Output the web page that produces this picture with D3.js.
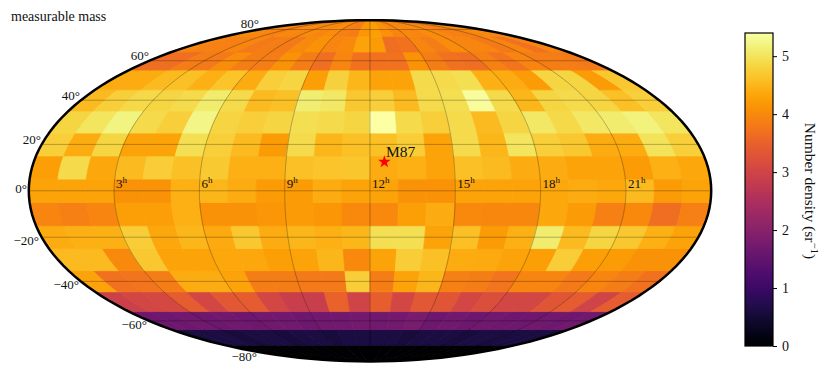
<!DOCTYPE html>
<html><head><meta charset="utf-8">
<script src="https://cdn.jsdelivr.net/npm/d3@7"></script>
<style>html,body{margin:0;padding:0;background:#fff}svg{display:block}text{font-family:"Liberation Serif",serif;fill:#111}</style>
</head><body><svg id="c" width="830" height="381"></svg>
<script>
// Latitude edges of the bands (deg), south to north; longitude bins are 1h wide (RA 0h..24h).
const latEdges = [-90,-75,-65,-55,-45,-35,-25,-15,-5,5,15,25,35,45,55,65,75,90];
const raHours = d3.range(0,25);
// Number density per RA hour, one array per band, south to north
const bandS82 = [0,0,0,0,0,0,0,0,0,0,0,0,0,0,0,0,0,0,0,0,0,0,0,0];
const bandS70 = [0.6,0.6,0.6,0.55,0.6,0.6,0.55,0.6,0.6,0.55,0.6,0.6,0.6,0.6,0.55,0.6,0.6,0.6,0.55,0.6,0.6,0.6,0.6,0.6];
const bandS60 = [1.65,1.65,1.7,1.65,1.7,1.65,1.7,1.7,1.65,1.7,1.7,1.75,1.7,1.75,1.8,1.65,1.7,1.65,1.7,1.65,1.65,1.7,1.65,1.7];
const bandS50 = [2.95,3.05,3.1,3.4,3.05,3.35,3.4,3.05,2.9,2.9,3.5,3.0,3.45,3.05,3.35,3.3,3.05,3.2,3.05,3.05,3.3,3.4,3.0,3.4];
const bandS40 = [4.3,3.7,3.75,3.85,4.4,4.4,4.3,3.85,3.85,3.8,3.8,4.75,3.85,4.3,4.5,3.9,3.85,3.75,3.95,3.95,3.8,3.95,3.85,3.7];
const bandS30 = [4.55,4.55,4.0,4.7,4.3,4.3,4.35,4.35,4.25,4.3,4.5,4.0,4.3,4.75,4.6,4.4,4.38,4.3,4.25,4.75,4.25,4.2,4.1,4.1];
const bandS20 = [4.4,4.45,4.45,4.75,4.35,4.5,4.38,4.7,4.4,4.5,4.45,4.5,4.95,4.95,4.3,4.6,4.2,4.45,5.1,4.55,4.85,4.7,4.45,4.3];
const bandS10 = [3.95,3.9,3.95,4.25,4.25,4.45,4.1,4.1,4.15,4.2,4.15,4.0,4.0,4.25,4.4,4.0,3.98,3.98,4.35,4.2,3.9,4.0,3.65,3.9];
const band00 = [4.3,4.3,4.3,4.1,4.1,4.45,4.5,4.4,4.2,4.2,4.4,4.3,4.3,4.1,4.1,4.3,4.3,4.3,4.35,4.4,4.35,4.55,4.2,4.3];
const bandN10 = [4.25,4.9,4.35,4.55,4.75,4.6,4.72,4.45,4.45,4.6,4.65,4.68,4.4,4.45,4.3,4.6,4.55,4.4,4.4,4.3,4.3,4.2,4.45,4.35];
const bandN20 = [4.78,4.4,4.85,4.3,4.3,4.95,4.78,4.55,4.2,4.9,4.5,4.6,4.6,4.75,4.3,4.9,4.5,5.0,4.78,4.7,4.4,4.4,4.98,4.78];
const bandN30 = [4.85,5.0,5.2,4.9,4.78,5.22,4.85,4.78,4.85,4.95,4.9,4.85,5.4,4.9,4.78,4.9,4.55,4.85,5.05,4.88,5.05,5.1,5.18,5.0];
const bandN40 = [4.55,4.78,4.88,4.85,4.9,5.1,4.9,4.55,4.6,5.12,5.05,4.7,4.78,4.55,4.9,4.95,5.35,4.9,4.5,4.85,4.9,4.85,4.6,4.78];
const bandN50 = [4.4,4.4,4.55,4.6,4.45,4.65,4.4,4.78,4.85,4.25,4.8,4.5,4.3,4.3,4.9,4.9,4.95,4.45,4.4,4.2,4.85,4.85,4.2,4.7];
const bandN60 = [3.65,3.65,3.85,3.8,4.05,3.85,3.85,4.1,3.85,3.65,3.95,3.7,3.7,3.7,4.1,3.85,3.7,3.65,3.9,3.75,3.95,3.85,3.85,3.8];
const bandN70 = [3.95,3.9,3.9,3.95,3.8,3.85,3.8,4.0,4.1,3.95,4.0,4.3,4.2,3.65,3.7,3.95,3.85,4.05,3.95,3.95,3.8,3.95,3.7,3.95];
const bandN82 = [4.0,4.0,3.95,3.9,4.0,3.95,4.05,3.95,4.05,3.9,3.85,4.15,4.25,4.1,3.95,4.0,3.95,4.05,4.0,3.9,3.85,3.95,4.0,3.95];
const bands = [bandS82,bandS70,bandS60,bandS50,bandS40,bandS30,bandS20,bandS10,band00,bandN10,bandN20,bandN30,bandN40,bandN50,bandN60,bandN70,bandN82];

const latTicks = [-80,-60,-40,-20,0,20,40,60,80];
const raTicks = [3,6,9,12,15,18,21];
const cbarTicks = [0,1,2,3,4,5];
const vMax = 5.4;
const title = "measurable mass";
const cbarTitle = "Number density (sr";
const source = {name:"M87", ra:187.7, dec:12.4};

function mollweideRaw(lam, phi){
  const target = Math.PI*Math.sin(phi);
  let t = phi;
  if (Math.abs(Math.abs(phi)-Math.PI/2) < 1e-9) t = phi;
  else for (let i=0;i<60;i++){
    const d = (2*t+Math.sin(2*t)-target)/(2+2*Math.cos(2*t)+1e-12);
    t -= d; if (Math.abs(d)<1e-10) break;
  }
  return [2*Math.SQRT2/Math.PI*lam*Math.cos(t), Math.SQRT2*Math.sin(t)];
}
const proj = d3.geoProjection(mollweideRaw).scale(170.6/Math.SQRT2).translate([370,190.8]).rotate([0,0]).precision(0.1);
const lonOf = h => h*15-180;
const P = (lon,lat)=>{ const r=(lon*Math.PI/180), f=(lat*Math.PI/180), p=mollweideRaw(r,f), k=proj.scale(), t=proj.translate(); return [t[0]+k*p[0], t[1]-k*p[1]]; };
const line = d3.line();
const svg = d3.select("#c");
const color = d3.scaleSequential(d3.interpolateInferno).domain([0,vMax]);

const defs = svg.append("defs");
const outline = d3.range(0,361,2).map(a=>[370+341.2*Math.cos(a*Math.PI/180),190.8+170.6*Math.sin(a*Math.PI/180)]);
defs.append("clipPath").attr("id","el").append("path").attr("d",line(outline)+"Z");

const map = svg.append("g").attr("clip-path","url(#el)");
// cells
const cells = [];
bands.forEach((vals,b)=>vals.forEach((v,i)=>cells.push({v,la0:latEdges[b],la1:latEdges[b+1],h0:raHours[i],h1:raHours[i+1]})));
function cellPath(c){
  const n=10, l0=lonOf(c.h0), l1=lonOf(c.h1), pts=[];
  for(let k=0;k<=n;k++) pts.push(P(l0,c.la0+(c.la1-c.la0)*k/n));
  for(let k=n;k>=0;k--) pts.push(P(l1,c.la0+(c.la1-c.la0)*k/n));
  return line(pts)+"Z";
}
map.selectAll("path.cell").data(cells).join("path").attr("class","cell")
  .attr("d",cellPath).attr("fill",d=>color(d.v)).attr("stroke",d=>color(d.v)).attr("stroke-width",0.8).attr("stroke-linejoin","round");
// grid
const gridStyle = s=>s.attr("fill","none").attr("stroke","#000").attr("stroke-opacity",0.27).attr("stroke-width",1);
latTicks.forEach(la=>map.append("path").attr("d",line(d3.range(-180,181,3).map(lo=>P(lo,la)))).call(gridStyle));
raTicks.forEach(h=>map.append("path").attr("d",line(d3.range(-90,90.01,1).map(la=>P(lonOf(h),la)))).call(gridStyle));
// frame
svg.append("path").attr("d",line(outline)+"Z").attr("fill","none").attr("stroke","#000").attr("stroke-width",2.5);
// lat labels
const latLabelAt = {"-80":[257,361],"-60":[147,329],"-40":[79,289],"-20":[39,245],"0":[27,193],"20":[41,144],"40":[80,100],"60":[149,60],"80":[259,28]};
latTicks.forEach(la=>{
  const anchor = latLabelAt[la];
  svg.append("text").attr("x",anchor[0]).attr("y",anchor[1]).attr("text-anchor","end").attr("font-size",13)
    .text((la<0?"\u2212":"")+Math.abs(la)+"\u00b0");
});
// RA labels
raTicks.forEach(h=>{
  const p = P(lonOf(h),0);
  const t = svg.append("text").attr("x",p[0]+2).attr("y",p[1]-3).attr("font-size",13);
  t.append("tspan").text(h);
  t.append("tspan").attr("font-size",9).attr("dy",-4.5).text("h");
});
svg.append("text").attr("x",11).attr("y",21).attr("font-size",14).text(title);
// source
const sp = P(source.ra-180,source.dec);
svg.append("path").attr("transform",`translate(${sp[0]},${sp[1]})`).attr("d",d3.symbol(d3.symbolStar,48)()).attr("fill","#f00");
svg.append("text").attr("x",sp[0]+1.5).attr("y",sp[1]-5).attr("font-size",15.5).text(source.name);
// colorbar
const cbarY = d3.scaleLinear().domain([0,vMax]).range([346,33]);
const grad = defs.append("linearGradient").attr("id","g").attr("x1",0).attr("x2",0).attr("y1",1).attr("y2",0);
d3.range(0,1.001,0.02).forEach(t=>grad.append("stop").attr("offset",t).attr("stop-color",color(t*vMax)));
svg.append("rect").attr("x",745).attr("y",33).attr("width",28).attr("height",313).attr("fill","url(#g)").attr("stroke","#000").attr("stroke-width",1.2);
const ax = svg.append("g").attr("transform","translate(773,0)").call(d3.axisRight(cbarY).tickValues(cbarTicks).tickFormat(d3.format("d")).tickSize(4).tickPadding(5));
ax.select(".domain").remove();
ax.selectAll("line").attr("stroke","#000").attr("stroke-width",1);
ax.selectAll("text").attr("font-size",14).attr("font-family",'"Liberation Serif",serif').attr("fill","#111");
const ct = svg.append("text").attr("transform","translate(805,191) rotate(90)").attr("text-anchor","middle").attr("font-size",15.5);
ct.append("tspan").text(cbarTitle);
ct.append("tspan").attr("font-size",11).attr("dy",-5.5).text("\u22121");
ct.append("tspan").attr("dy",5.5).text(")");
</script></body></html>
